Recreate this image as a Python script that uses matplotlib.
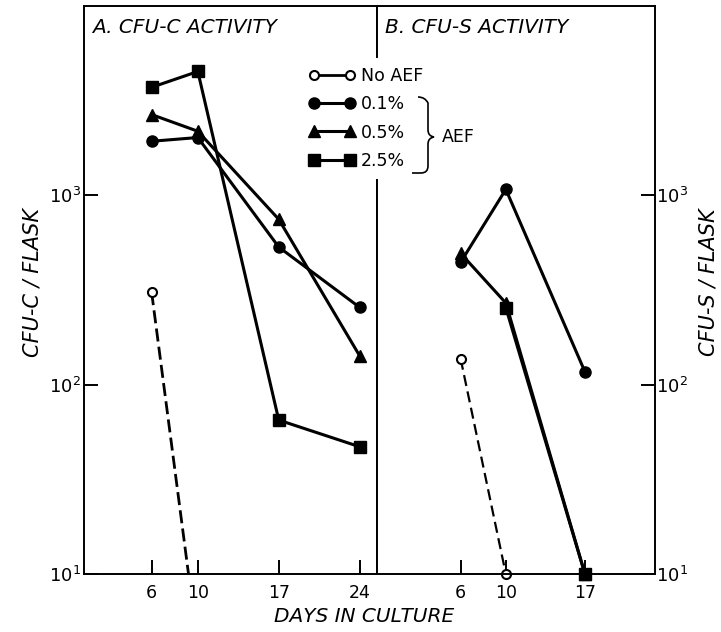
import matplotlib.pyplot as plt
from matplotlib.lines import Line2D
from matplotlib.path import Path
from matplotlib.patches import PathPatch
from matplotlib.ticker import NullLocator

# A. CFU-C per flask
days_c = [6, 10, 17, 24]
cfuc_none_days = [6, 10]
cfuc_none = [308, 4.2]
cfuc_01 = [1930, 2020, 533, 256]
cfuc_05 = [2670, 2180, 747, 142]
cfuc_25 = [3720, 4510, 65, 47]

# B. CFU-S per flask
days_s = [6, 10, 17]
cfus_none_days = [6, 10]
cfus_none = [137, 10]
cfus_01 = [443, 1075, 117]
cfus_05 = [494, 270, 10]
cfus_25_days = [10, 17]
cfus_25 = [255, 10]

labels = ['No AEF', '0.1%', '0.5%', '2.5%']

W, H = 721, 632
lw = 2.2
filled = dict(color='black', lw=lw, markeredgecolor='black')
open_c = dict(color='black', marker='o', ms=6.5, mfc='white', mec='black', mew=1.5)


def px(x, y):
    return x / W, 1 - y / H


fig = plt.figure(figsize=(W / 100, H / 100), dpi=100)
axA = fig.add_axes([84 / W, 58 / H, 293 / W, 568 / H])
axB = fig.add_axes([377 / W, 58 / H, 278 / W, 568 / H])

for ax in (axA, axB):
    ax.set_yscale('log')
    ax.set_ylim(10, 1e4)
    ax.set_yticks([10, 100, 1000])
    ax.yaxis.set_minor_locator(NullLocator())
    ax.tick_params(direction='in', length=10, width=1.4, labelsize=13)
    ax.tick_params(axis='x', pad=7, labelsize=12.5)
    for s in ax.spines.values():
        s.set_linewidth(1.4)

# panel A
axA.set_xlim(0.15, 25.5)
axA.set_xticks(days_c)
axA.tick_params(axis='y', pad=2)
axA.plot(cfuc_none_days, cfuc_none, ls=(0, (4.7, 1.9)), lw=2.0, **open_c)
axA.plot(days_c, cfuc_01, marker='o', ms=8, **filled)
axA.plot(days_c, cfuc_05, marker='^', ms=9, **filled)
axA.plot(days_c, cfuc_25, marker='s', ms=8, **filled)
axA.text(0.027, 0.979, 'A. CFU-C ACTIVITY', transform=axA.transAxes,
         ha='left', va='top', style='italic', fontsize=14.5)

# panel B
axB.set_xlim(-1.4, 23.2)
axB.set_xticks(days_s)
axB.yaxis.tick_right()
axB.tick_params(axis='y', pad=1)
axB.plot(cfus_none_days, cfus_none, ls=(0, (5, 2.5)), lw=1.6, clip_on=False, **open_c)
axB.plot(days_s, cfus_01, marker='o', ms=8, clip_on=False, **filled)
axB.plot(days_s, cfus_05, marker='^', ms=9, clip_on=False, **filled)
axB.plot(cfus_25_days, cfus_25, marker='s', ms=8, clip_on=False, **filled)
axB.text(0.029, 0.979, 'B. CFU-S ACTIVITY', transform=axB.transAxes,
         ha='left', va='top', style='italic', fontsize=14.5)

# axis labels
fig.text(*px(33, 282), 'CFU-C / FLASK', rotation=90, ha='center', va='center',
         style='italic', fontsize=15)
fig.text(*px(708, 282), 'CFU-S / FLASK', rotation=90, ha='center', va='center',
         style='italic', fontsize=15)
fig.text(*px(364, 616), 'DAYS IN CULTURE', ha='center', va='center',
         style='italic', fontsize=14.5)

# legend (no AEF drawn solid in the key)
handles = [
    Line2D([], [], ls='-', lw=2.0, **open_c),
    Line2D([], [], marker='o', ms=8, **filled),
    Line2D([], [], marker='^', ms=9, **filled),
    Line2D([], [], marker='s', ms=8, **filled),
]
fig.legend(handles, labels, loc='upper left', bbox_to_anchor=px(300, 58),
           frameon=True, facecolor='white', edgecolor='none', framealpha=1,
           fancybox=False, numpoints=2, handlelength=2.7, handletextpad=0.3,
           labelspacing=0.6, fontsize=12.5, borderpad=0.5, borderaxespad=0)

# brace grouping the AEF doses, drawn over the legend box
verts = [px(418, 97), px(425, 97), px(428, 103), px(428, 130),
         px(428, 136), px(434, 137), px(428, 138), px(428, 144),
         px(428, 166), px(428, 173), px(421, 173), px(412, 173)]
codes = [Path.MOVETO, Path.CURVE3, Path.CURVE3, Path.LINETO,
         Path.CURVE3, Path.CURVE3, Path.CURVE3, Path.CURVE3,
         Path.LINETO, Path.CURVE3, Path.CURVE3, Path.LINETO]
fig.add_artist(PathPatch(Path(verts, codes), fc='none', ec='black', lw=1.2,
                         transform=fig.transFigure, zorder=10))
fig.text(*px(442, 137), 'AEF', ha='left', va='center', fontsize=12.5, zorder=10)

fig.savefig('out.png', dpi=100)
